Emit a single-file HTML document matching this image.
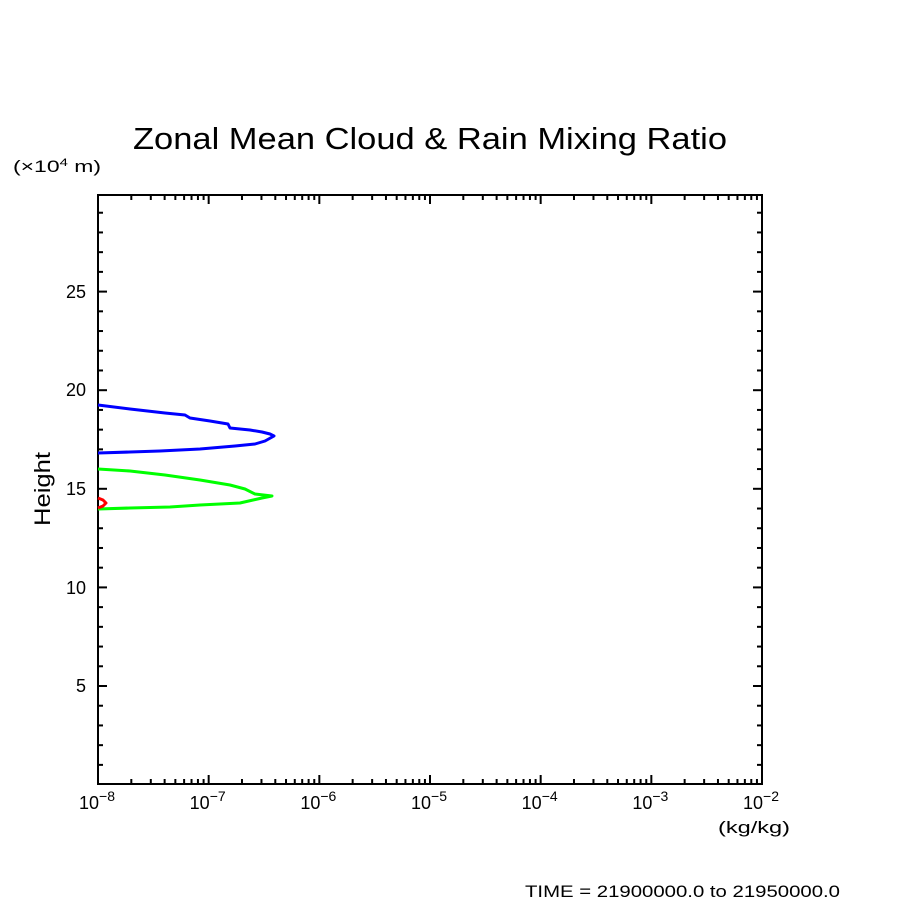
<!DOCTYPE html>
<html><head><meta charset="utf-8"><style>
html,body{margin:0;padding:0;background:#fff;width:904px;height:904px;overflow:hidden}
text{font-family:"Liberation Sans","DejaVu Sans",sans-serif;fill:#000}
</style></head><body>
<svg id="s" width="904" height="904" xmlns="http://www.w3.org/2000/svg">
<rect width="904" height="904" fill="#fff"/>
<text x="133" y="149" font-size="31" textLength="594" lengthAdjust="spacingAndGlyphs">Zonal Mean Cloud &amp; Rain Mixing Ratio</text>
<text x="13" y="172" font-size="17" textLength="88" lengthAdjust="spacingAndGlyphs">(×10<tspan font-size="11" dy="-6">4</tspan><tspan dy="6"> m)</tspan></text>
<text x="50" y="489" font-size="22" text-anchor="middle" transform="rotate(-90 50 489)" textLength="74" lengthAdjust="spacingAndGlyphs">Height</text>
<g font-size="18" text-anchor="end">
<text x="86" y="298">25</text><text x="86" y="396">20</text><text x="86" y="495">15</text><text x="86" y="594">10</text><text x="86" y="692">5</text>
</g>
<g id="xl" font-size="18"></g>
<text x="718" y="833" font-size="17" textLength="72" lengthAdjust="spacingAndGlyphs">(kg/kg)</text>
<text x="525" y="897" font-size="17" textLength="315" lengthAdjust="spacingAndGlyphs">TIME = 21900000.0 to 21950000.0</text>
<g id="ticks" stroke="#000" stroke-width="2"></g>
<rect x="98" y="195" width="664" height="589" fill="none" stroke="#000" stroke-width="2"/>
<g fill="none" stroke-width="3" stroke-linejoin="round">
<polyline stroke="#0000ff" points="98,405 130,409 165,413 185,415 190,418 210,421 228,424 230,428 250,430 262,432 270,434 274,436 265,441 255,444 235,446 200,449 160,451 130,452 98,453"/>
<polyline stroke="#00ff00" points="98,469 130,471 165,475 200,480 230,485 245,489 255,494 272,496 262,498 240,503 200,505 170,507 130,508 98,509"/>
<polyline stroke="#ff0000" points="98,498 103,500 106,503 103,506 98,508"/>
</g>
</svg>
<script>
var ns="http://www.w3.org/2000/svg",t=document.getElementById("ticks"),xl=document.getElementById("xl");
function L(a,b,c,d){var l=document.createElementNS(ns,"line");l.setAttribute("x1",a);l.setAttribute("y1",b);l.setAttribute("x2",c);l.setAttribute("y2",d);t.appendChild(l);}
var x0=98,dec=110.667;
for(var d=0;d<6;d++){for(var k=1;k<10;k++){var x=x0+dec*(d+Math.log10(k));var len=k==1?9:5;L(x,784,x,784-len);L(x,195,x,195+len);}}
for(var d=0;d<=6;d++){var x=x0+dec*d;var tx=document.createElementNS(ns,"text");tx.setAttribute("x",x-19);tx.setAttribute("y",809);tx.innerHTML='10<tspan font-size="14" dy="-8">−'+(8-d)+'</tspan>';xl.appendChild(tx);}
var y0=784.6,u=19.72;
for(var v=1;v<30;v++){var y=y0-u*v;var len=v%5==0?9:5;L(98,y,98+len,y);L(762,y,762-len,y);}
</script>
</body></html>
